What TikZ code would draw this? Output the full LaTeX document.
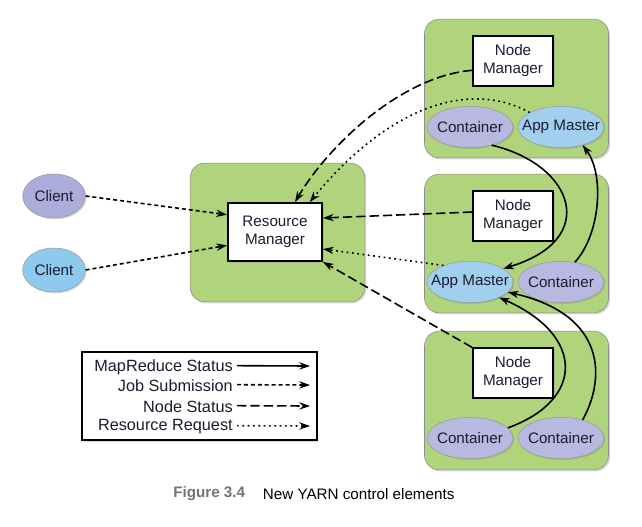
\documentclass[tikz,border=0pt]{standalone}
\usepackage{fontspec}
\setmainfont{Liberation Sans}
\usetikzlibrary{shadows,arrows.meta,positioning,shapes.geometric}
\definecolor{hostgreen}{RGB}{176,212,124}
\definecolor{contlilac}{RGB}{184,184,224}
\definecolor{masterblue}{RGB}{160,208,238}
\definecolor{clientlilac}{RGB}{172,172,218}
\definecolor{clientblue}{RGB}{142,202,238}
\definecolor{inkblue}{RGB}{28,28,48}
\begin{document}
\begin{tikzpicture}[x=0.75pt,y=-0.75pt,
                      font=\fontsize{11.4}{13.5}\selectfont,text=inkblue,
                      host/.style={rectangle,rounded corners=11pt,draw=black!45,fill=hostgreen,
                      minimum width=138pt,minimum height=104pt,
                      drop shadow={opacity=0.3,shadow xshift=1.2pt,shadow yshift=-1.2pt}},
                      manager/.style={rectangle,draw=black,line width=1.4pt,fill=white,align=center,
                      minimum width=60pt,minimum height=37pt,inner sep=1pt,
                      drop shadow={opacity=0.3,shadow xshift=1.2pt,shadow yshift=-1.2pt}},
                      task node/.style={ellipse,draw=black!40,inner ysep=0pt,inner xsep=-6.5pt,
                      minimum width=64.5pt,minimum height=31pt,
                      drop shadow={opacity=0.3,shadow xshift=1pt,shadow yshift=-1pt}},
                      container/.style={task node,fill=contlilac},
                      app master/.style={task node,fill=masterblue},
                      client/.style={ellipse,draw=black!40,inner sep=0pt,
                      minimum width=47pt,minimum height=33pt,
                      drop shadow={opacity=0.3,shadow xshift=1pt,shadow yshift=-1pt}},
                      key/.style={anchor=east,inner sep=0pt,font=\fontsize{12.2}{14}\selectfont},
                      link/.style={line width=1.2pt,-{Stealth[length=8pt,width=5.5pt]}},
                      mrstatus/.style={link},
                      jobsub/.style={link,dash pattern=on 3pt off 2.2pt},
                      nodestatus/.style={link,dash pattern=on 7pt off 3pt},
                      resreq/.style={link,dash pattern=on 1.3pt off 2.7pt}
                     ]
   \useasboundingbox (0,0) rectangle (642,526);

   % hosts
   \node[host,minimum width=131pt] (rmhost) at (277.5,232.5) {};
   \node[host] (host1) at (516.5,88.5) {};
   \node[host] (host2) at (516.5,243.5) {};
   \node[host] (host3) at (516.5,400.5) {};

   \node[manager,minimum width=70.5pt,minimum height=43.5pt] (rm) at (275,232) {Resource\\Manager};
   \node[manager] (nm1) at (513,61) {Node\\Manager};
   \node[manager] (nm2) at (513,216) {Node\\Manager};
   \node[manager] (nm3) at (513,373) {Node\\Manager};

   \node[container] (c1) at (470,127) {Container};
   \node[app master] (am1) at (561,127) {App Master};
   \node[app master] (am2) at (470,282) {App Master};
   \node[container] (c2) at (561,282) {Container};
   \node[container] (c3) at (470,438) {Container};
   \node[container] (c4) at (561,438) {Container};

   \node[client,fill=clientlilac] (cl1) at (54,196) {Client};
   \node[client,fill=clientblue] (cl2) at (54,270) {Client};

   % straight links
   \path%
     (cl1.east) edge [jobsub] ([yshift=13pt]rm.west)
     (cl2.east) edge [jobsub] ([yshift=-10pt]rm.west)
     ([yshift=3pt]nm2.west) edge [nodestatus] ([yshift=10.5pt]rm.east)
     (am2.148) edge [resreq] ([yshift=-12.75pt]rm.east)
     (nm3.north west) edge [nodestatus] (rm.south east);

   % curved links
   \draw[nodestatus] ([yshift=-7pt]nm1.west) .. controls (403,76) and (330,143) .. ([xshift=15pt]rm.north);
   \draw[resreq] (am1.155) .. controls (470,80) and (390,105) .. ([xshift=26pt]rm.north);
   \draw[mrstatus] (c1.-40) .. controls (575,165) and (600,240) .. (am2.22);
   \draw[mrstatus] (c2.55) .. controls (600,235) and (605,175) .. (am1.-40);
   \draw[mrstatus] (c3.15) .. controls (585,400) and (585,335) .. (am2.-28);
   \draw[mrstatus] (c4.40) .. controls (605,380) and (608,315) .. (am2.-15);

   % legend
   \node[rectangle,draw=black,line width=1.4pt,fill=white,minimum width=176pt,minimum height=66pt,
         drop shadow={opacity=0.3,shadow xshift=1.2pt,shadow yshift=-1.2pt}] (legend) at (199.5,396) {};
   \node[key] (l1) at (233,367) {MapReduce Status};
   \node[key] (l2) at (233,386) {Job Submission};
   \node[key] (l3) at (233,407) {Node Status};
   \node[key] (l4) at (233,427) {Resource Request};
   \coordinate (l1e) at (310,366);
   \coordinate (l2e) at (310,385);
   \coordinate (l3e) at (310,406);
   \coordinate (l4e) at (310,426);
   \draw[mrstatus] ([xshift=3pt,yshift=1pt]l1.east) -- (l1e);
   \draw[jobsub] ([xshift=3pt,yshift=1pt]l2.east) -- (l2e);
   \draw[nodestatus] ([xshift=3pt,yshift=1pt]l3.east) -- (l3e);
   \draw[resreq] ([xshift=3pt,yshift=1pt]l4.east) -- (l4e);

   % caption
   \node[anchor=west,inner sep=0pt,text=black!55] (figno) at (173,494) {\textbf{Figure 3.4}};
   \node[right=13pt of figno,inner sep=0pt,text=black] (figtext) {New YARN control elements};
\end{tikzpicture}
\end{document}
